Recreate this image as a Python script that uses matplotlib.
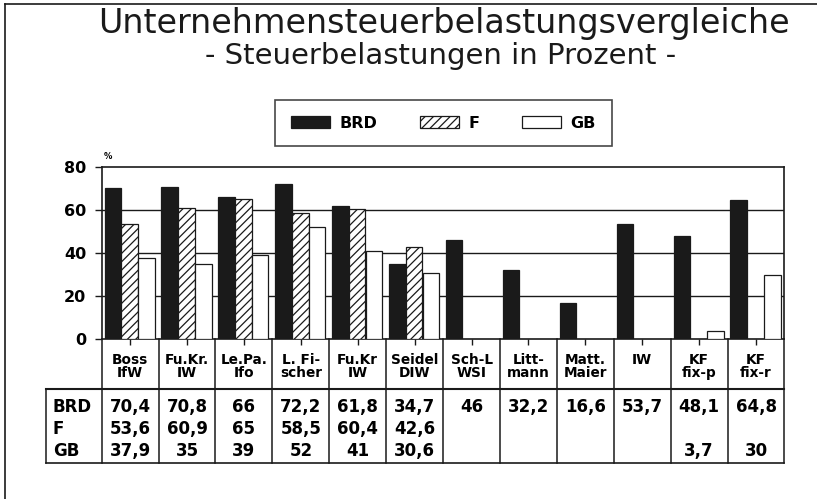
import numpy as np
import matplotlib
matplotlib.use("Agg")
import matplotlib.pyplot as plt
import matplotlib.transforms as mtransforms
from matplotlib.lines import Line2D

# ---------------- data ----------------
categories = ["Boss\nIfW", "Fu.Kr.\nIW", "Le.Pa.\nIfo", "L. Fi-\nscher", "Fu.Kr\nIW",
              "Seidel\nDIW", "Sch-L\nWSI", "Litt-\nmann", "Matt.\nMaier", "IW",
              "KF\nfix-p", "KF\nfix-r"]
series_names = ["BRD", "F", "GB"]
brd = [70.4, 70.8, 66, 72.2, 61.8, 34.7, 46, 32.2, 16.6, 53.7, 48.1, 64.8]
f_vals = [53.6, 60.9, 65, 58.5, 60.4, 42.6, np.nan, np.nan, np.nan, np.nan, np.nan, np.nan]
gb = [37.9, 35, 39, 52, 41, 30.6, np.nan, np.nan, np.nan, np.nan, 3.7, 30]
yticks = [0, 20, 40, 60, 80]

W, H = 817, 499
plt.rcParams['hatch.linewidth'] = 0.9
fig = plt.figure(figsize=(W / 100, H / 100), dpi=100)

# axes placement in pixel terms
ax_l, ax_r, ax_t, ax_b = 101.7, 784.5, 167.0, 339.0
ax = fig.add_axes([ax_l / W, (H - ax_b) / H, (ax_r - ax_l) / W, (ax_b - ax_t) / H])

def yf(p):
    return (ax_b - p) / (ax_b - ax_t)

n = len(categories)
x = np.arange(n)
bw = 0.29
offs = [0.05, 0.345, 0.64]
styles = [dict(color="#1a1a1a", edgecolor="#1a1a1a"),
          dict(color="white", edgecolor="#1a1a1a", hatch="////"),
          dict(color="white", edgecolor="#1a1a1a")]
handles = []
for vals, off, st, name in zip([brd, f_vals, gb], offs, styles, series_names):
    b = ax.bar(x + off, vals, width=bw, align="edge", linewidth=0.9, label=name, zorder=3, **st)
    handles.append(b)

ax.set_xlim(0, n)
ax.set_ylim(0, 80)
ax.set_yticks(yticks)
ax.set_yticklabels([str(v) for v in yticks], fontsize=11.5, fontweight="bold", family="DejaVu Sans")
ax.tick_params(axis="y", direction="out", length=5, width=1, pad=6, color="#1a1a1a")
ax.set_xticks(x + 0.5)
ax.set_xticklabels([])
ax.tick_params(axis="x", direction="out", length=4, width=1, color="#1a1a1a")
for s in ax.spines.values():
    s.set_linewidth(1.2)
    s.set_color("#1a1a1a")
for v in yticks[1:-1]:
    ax.axhline(v, color="#1a1a1a", linewidth=1.0, zorder=1)

ax.text(0.003, 1.06, "%", transform=ax.transAxes, fontsize=6, fontweight="bold",
        ha="left", va="center")

# ------------- table under axis -------------
tr = mtransforms.blended_transform_factory(ax.transData, ax.transAxes)
y_lab_bot = yf(389)
y_tab_bot = yf(463)
x_left = (46 - ax_l) / ((ax_r - ax_l) / n)

def line(xs, ys, lw=1.0):
    ax.add_line(Line2D(xs, ys, transform=tr, color="#1a1a1a", linewidth=lw, clip_on=False))

for i in range(n + 1):
    line([i, i], [0, y_tab_bot], lw=1.1)
line([x_left, n], [y_lab_bot, y_lab_bot], lw=1.5)
line([x_left, n], [y_tab_bot, y_tab_bot], lw=1.2)
line([x_left, x_left], [y_lab_bot, y_tab_bot], lw=1.1)

for i, c in enumerate(categories):
    ax.text(i + 0.5, yf(353), c, transform=tr, ha="center", va="top", fontsize=9.8,
            fontweight="bold", family="DejaVu Sans", linespacing=0.95)

row_y = [yf(407), yf(429), yf(451)]
def fmt(v):
    if np.isnan(v):
        return ""
    return f"{v:g}".replace(".", ",")

for ry, name, vals in zip(row_y, series_names, [brd, f_vals, gb]):
    ax.text(x_left + 0.12, ry, name, transform=tr, ha="left", va="center", fontsize=12,
            fontweight="bold", family="DejaVu Sans")
    for i, v in enumerate(vals):
        ax.text(i + 0.5, ry, fmt(v), transform=tr, ha="center", va="center", fontsize=12,
                fontweight="bold", family="DejaVu Sans")

# ------------- legend -------------
leg = ax.legend(handles=handles, labels=series_names, loc="center",
                bbox_to_anchor=(443.5 / W, 1 - 123 / H), bbox_transform=fig.transFigure,
                ncol=3, frameon=True, fancybox=False, edgecolor="#1a1a1a",
                handlelength=2.4, handleheight=0.85, handletextpad=0.6, columnspacing=2.7,
                borderpad=1.0, prop=dict(weight="bold", family="DejaVu Sans", size=11.5))
leg.get_frame().set_linewidth(1.2)

# ------------- titles -------------
fig.text(444 / W, 1 - 23 / H, "Unternehmensteuerbelastungsvergleiche", ha="center", va="center",
         fontsize=24, family="DejaVu Sans", color="#1a1a1a")
fig.text(441 / W, 1 - 56 / H, "- Steuerbelastungen in Prozent -", ha="center", va="center",
         fontsize=21, family="DejaVu Sans", color="#1a1a1a")

# ------------- outer frame (left and top) -------------
fig.add_artist(Line2D([5 / W, 5 / W], [0, 1 - 4 / H], transform=fig.transFigure, color="#1a1a1a", linewidth=1.2))
fig.add_artist(Line2D([5 / W, 1], [1 - 4 / H, 1 - 4 / H], transform=fig.transFigure, color="#1a1a1a", linewidth=1.2))

fig.savefig("out.png", dpi=100)
